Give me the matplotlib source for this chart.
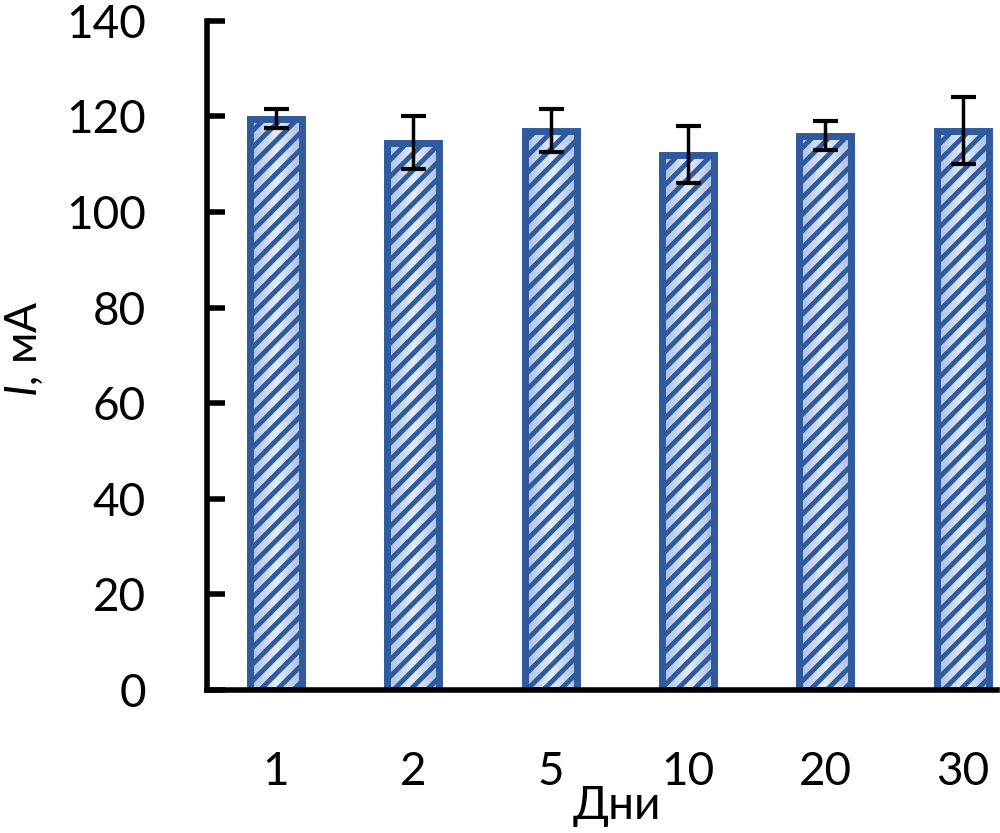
import numpy as np
import matplotlib
matplotlib.use("Agg")
import matplotlib.pyplot as plt
from matplotlib.colors import LinearSegmentedColormap

# Данные
days = ["1", "2", "5", "10", "20", "30"]
current = [119.5, 114.5, 117, 112, 116, 117]
errors = [2, 5.5, 4.5, 6, 3, 7]
yticks = [0, 20, 40, 60, 80, 100, 120, 140]

plt.rcParams["font.family"] = ["Lato", "DejaVu Sans"]
plt.rcParams["mathtext.fontset"] = "custom"
plt.rcParams["mathtext.it"] = "Lato:italic"
plt.rcParams["mathtext.rm"] = "Lato"
plt.rcParams["hatch.linewidth"] = 3.5

fig = plt.figure(figsize=(10, 8.33), dpi=100)
ax = fig.add_axes([0.207, 0.1717, 0.79, 0.8033])

x = np.arange(len(days))
width = 0.38
bars = ax.bar(x, current, width=width, facecolor="none", edgecolor="#2F5A9E",
              linewidth=5, hatch="//", zorder=3)

# градиентная заливка столбцов
cmap = LinearSegmentedColormap.from_list("g", ["#A9BEE2", "#E4ECF8", "#A9BEE2"])
grad = np.linspace(0, 1, 64).reshape(1, -1)
for xi, b in zip(x, bars):
    im = ax.imshow(grad, cmap=cmap, aspect="auto", zorder=2,
                   extent=[xi - width / 2, xi + width / 2, 0, b.get_height()])
    im.set_clip_path(b)

ax.errorbar(x, current, yerr=errors, fmt="none", ecolor="black",
            elinewidth=2.5, capsize=9, capthick=3, zorder=4)

ax.set_xlim(-0.502, 5.25)
ax.set_ylim(0, 140)
ax.set_yticks(yticks)
ax.set_xticks(x)
ax.set_xticklabels(days)

for s in ["top", "right"]:
    ax.spines[s].set_visible(False)
ax.spines["left"].set_linewidth(4)
ax.spines["bottom"].set_linewidth(4)
ax.spines["left"].set_zorder(5)
ax.spines["bottom"].set_zorder(5)

ax.tick_params(axis="y", direction="in", length=13, width=4, pad=44,
               labelsize=33)
ax.tick_params(axis="x", length=0, pad=44, labelsize=33)

ax.set_ylabel(r"$\mathit{I}$, мА", fontsize=32)
ax.yaxis.set_label_coords(-0.205, 0.51)
ax.set_xlabel("Дни", fontsize=33)
ax.xaxis.set_label_coords(0.519, -0.142)

plt.savefig("out.png", dpi=100)
